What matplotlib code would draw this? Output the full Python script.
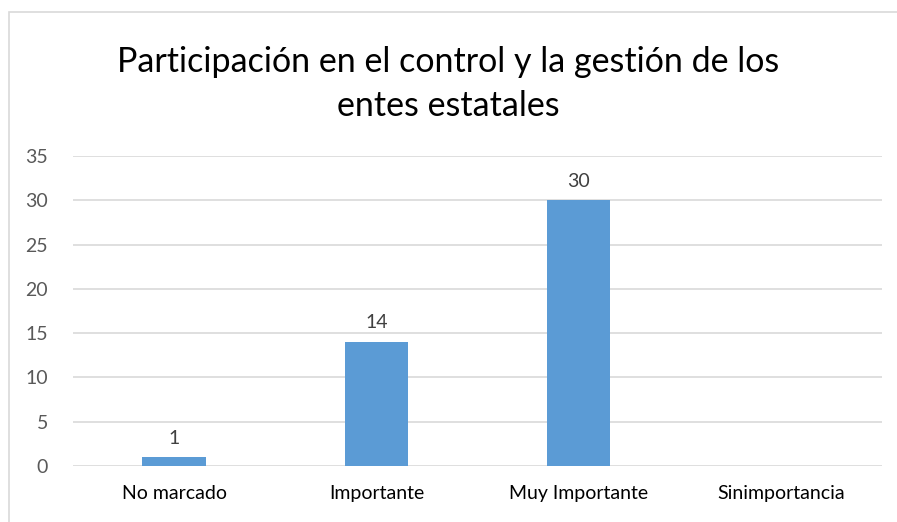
import matplotlib
matplotlib.use("Agg")
import matplotlib.pyplot as plt
from matplotlib.patches import Rectangle

categories = ["No marcado", "Importante", "Muy Importante", "Sinimportancia"]
values = [1, 14, 30, 0]
yticks = [0, 5, 10, 15, 20, 25, 30, 35]
title = "Participación en el control y la gestión de los\nentes estatales"

plt.rcParams['font.family'] = ['Lato', 'DejaVu Sans']

W, H = 897, 522
fig = plt.figure(figsize=(W/100, H/100), dpi=100)
fig.patch.set_facecolor('white')
fig.patches.append(Rectangle((9/W, -0.1), 1.2, (H-12)/H + 0.1, transform=fig.transFigure,
                             fill=False, edgecolor='#d9d9d9', linewidth=1.2))

x0, x1 = 73, 882
y0, y1 = 466, 156
ax = fig.add_axes([x0/W, 1 - y0/H, (x1-x0)/W, (y0-y1)/H])
ax.set_xlim(-0.5, len(categories) - 0.5)
ax.set_ylim(0, 35)
xs = list(range(len(categories)))
bars = ax.bar(xs, values, width=0.315, color='#5b9bd5', zorder=3)
for x, v in zip(xs, values):
    if v > 0:
        ax.text(x, v + 1.2, str(v), ha='center', va='bottom', fontsize=14, color='#404040')
ax.set_yticks(yticks)
ax.set_xticks(xs)
ax.set_xticklabels(categories, fontsize=14, color='#000000')
ax.tick_params(axis='y', labelsize=14, colors='#595959', length=0, pad=18)
ax.tick_params(axis='x', length=0, pad=14)
ax.grid(axis='y', color='#d9d9d9', linewidth=1.2, zorder=0)
for s in ax.spines.values():
    s.set_visible(False)
fig.text(448/W, 1 - 84/H, title, ha='center', va='center', fontsize=24.5, color='#000000', linespacing=1.45)
fig.savefig("out.png", dpi=100)
